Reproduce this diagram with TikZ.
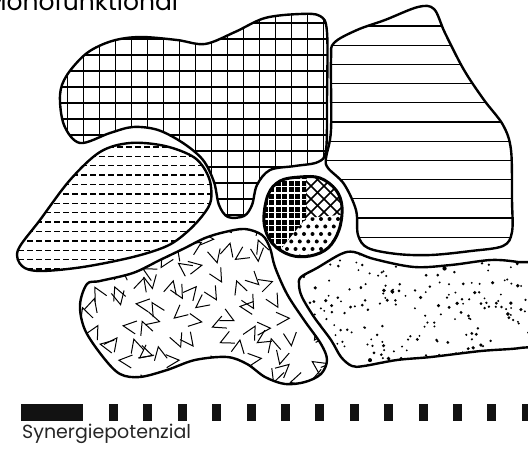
\documentclass[tikz,border=0pt]{standalone}
\usepackage{fontspec}
\setmainfont{Poppins}
\begin{document}
\begin{tikzpicture}[x=1pt,y=-1pt]
\tikzset{
  outline/.style={line width=2.4pt, line join=round},
  hatch/.style={line width=1.1pt},
  dashrow/.style={line width=1.4pt, dash pattern=on 6pt off 3pt},
  chev/.style={line width=1pt},
  barbox/.style={fill=black!93}
}
\def\shapeA{plot[smooth cycle, tension=0.55] coordinates {(60,95) (67,75) (87,53) (112,41) (140,37) (177,40) (205,44) (235,32) (265,18) (300,14) (320,16) (327,32) (327,100) (326,150) (318,162) (295,166) (270,170) (257,185) (252,205) (244,216) (228,217) (219,205) (214,182) (203,160) (183,143) (158,130) (133,127) (110,133) (80,143) (64,125)}}
\def\shapeB{plot[smooth cycle, tension=0.55] coordinates {(18,250) (40,220) (70,180) (100,152) (130,143) (165,146) (195,158) (209,178) (211,200) (203,215) (187,232) (167,246) (133,257) (83,267) (40,271) (22,266)}}
\def\shapeC{plot[smooth cycle, tension=0.55] coordinates {(87,284) (80,305) (85,330) (103,357) (120,374) (140,377) (167,370) (195,360) (227,357) (247,364) (265,377) (285,384) (305,382) (321,374) (327,360) (321,344) (304,320) (287,294) (275,267) (270,248) (262,235) (245,229) (225,232) (205,238) (185,248) (160,260) (133,273) (100,281)}}
\def\shapeD{plot[smooth cycle, tension=0.6] coordinates {(268,195) (280,181) (300,177) (320,178) (336,190) (342,207) (339,230) (328,248) (310,256) (290,255) (272,243) (264,222)}}
\def\shapeE{plot[smooth cycle, tension=0.55] coordinates {(334,43) (357,30) (385,20) (418,7) (434,9) (445,33) (464,70) (484,100) (503,125) (511,150) (512,200) (512,232) (503,246) (471,251) (431,255) (397,254) (368,248) (358,235) (356,210) (344,184) (328,168) (326,158) (331,130) (331,60)}}
\def\shapeF{plot[smooth cycle, tension=0.55] coordinates {(301,277) (317,268) (341,254) (354,252) (374,259) (414,267) (451,265) (491,260) (518,262) (535,266) (540,300) (535,342) (520,348) (481,351) (431,357) (397,360) (364,366) (352,366) (341,357) (331,340) (314,317) (302,297) (299,285)}}
\useasboundingbox (0,0) rectangle (528,454);
\clip (0,0) rectangle (528,454);
% title
\node[anchor=base west, inner sep=0pt, font=\fontsize{25}{30}\selectfont] (title) at (-15,11) {Monofunktional};
% grid shape
\begin{scope}
  \clip \shapeA;
  \foreach \x in {3.3,19.3,...,340} \draw[hatch] (\x,0) -- (\x,230);
  \foreach \y in {7,23,...,230} \draw[hatch] (40,\y) -- (340,\y);
\end{scope}
% lines shape
\begin{scope}
  \clip \shapeE;
  \foreach \y in {26,45.2,...,262} \draw[hatch] (320,\y) -- (528,\y);
\end{scope}
% dashed shape
\begin{scope}
  \clip \shapeB;
  \foreach \y in {147,156.4,...,275} \draw[dashrow] (0,\y) -- (220,\y);
\end{scope}
% central shape
\begin{scope}
  \clip \shapeD;
  \begin{scope}
    \clip (250,165) -- (306,165) -- (306,218) -- (280,250) -- (268,265) -- (250,265) -- cycle;
    \fill (250,165) rectangle (350,265);
    \foreach \x in {262,268.5,...,310} \draw[white, line width=1.2pt] (\x,165) -- (\x,265);
    \foreach \y in {180,186.5,...,265} \draw[white, line width=1.2pt] (250,\y) -- (310,\y);
  \end{scope}
  \begin{scope}
    \clip (306,165) -- (350,165) -- (350,214) -- (306,218) -- cycle;
    \foreach \c in {0,13,...,220} {
      \draw[line width=1.5pt] (220+\c,160) -- ++(70,70);
      \draw[line width=1.5pt] (220+\c,160) -- ++(-70,70);
    }
  \end{scope}
  \begin{scope}
    \clip (306,218) -- (350,214) -- (350,265) -- (268,265) -- (280,250) -- cycle;
    \foreach \r in {0,...,6} \foreach \q in {0,...,10} {
      \pgfmathsetmacro\dx{270+\q*8.5+mod(\r,2)*4.25}
      \pgfmathsetmacro\dy{219+\r*7.5}
      \fill (\dx,\dy) circle (2);
    }
  \end{scope}
\end{scope}
% chevron shape
\begin{scope}
  \clip \shapeC;
  \pgfmathsetseed{11}
  \foreach \i in {0,...,13} \foreach \j in {0,...,8} {
    \pgfmathsetmacro\cx{80+\i*19.5+rand*6}
    \pgfmathsetmacro\cy{225+\j*19.5+rand*6}
    \pgfmathsetmacro\ang{rnd*360}
    \draw[chev, shift={(\cx,\cy)}, rotate=\ang] (-13,-6.5) -- (0,0) -- (-13,6.5);
  }
\end{scope}
% dotted shape
\begin{scope}
  \clip \shapeF;
  \pgfmathsetseed{5}
  \foreach \k in {1,...,230} {
    \pgfmathsetmacro\dx{295+rnd*235}
    \pgfmathsetmacro\dy{250+rnd*120}
    \pgfmathsetmacro\dr{1.0+1.2*rnd*rnd}
    \fill (\dx,\dy) circle (\dr);
  }
\end{scope}
% outlines
\draw[outline] \shapeA;
\draw[outline] \shapeB;
\draw[outline] \shapeC;
\draw[outline, line width=3pt] \shapeD;
\draw[outline] \shapeE;
\draw[outline] \shapeF;
% scale bar
\fill[barbox] (21,404) rectangle (83,421);
\foreach \k in {0,...,12} \fill[barbox] (109+\k*34.4,404) rectangle ++(9,17);
\node[anchor=base west, inner sep=0pt, text=black!85, font=\fontsize{19}{22}\selectfont] (legend) at (22,439) {Synergiepotenzial};
\end{tikzpicture}
\end{document}
